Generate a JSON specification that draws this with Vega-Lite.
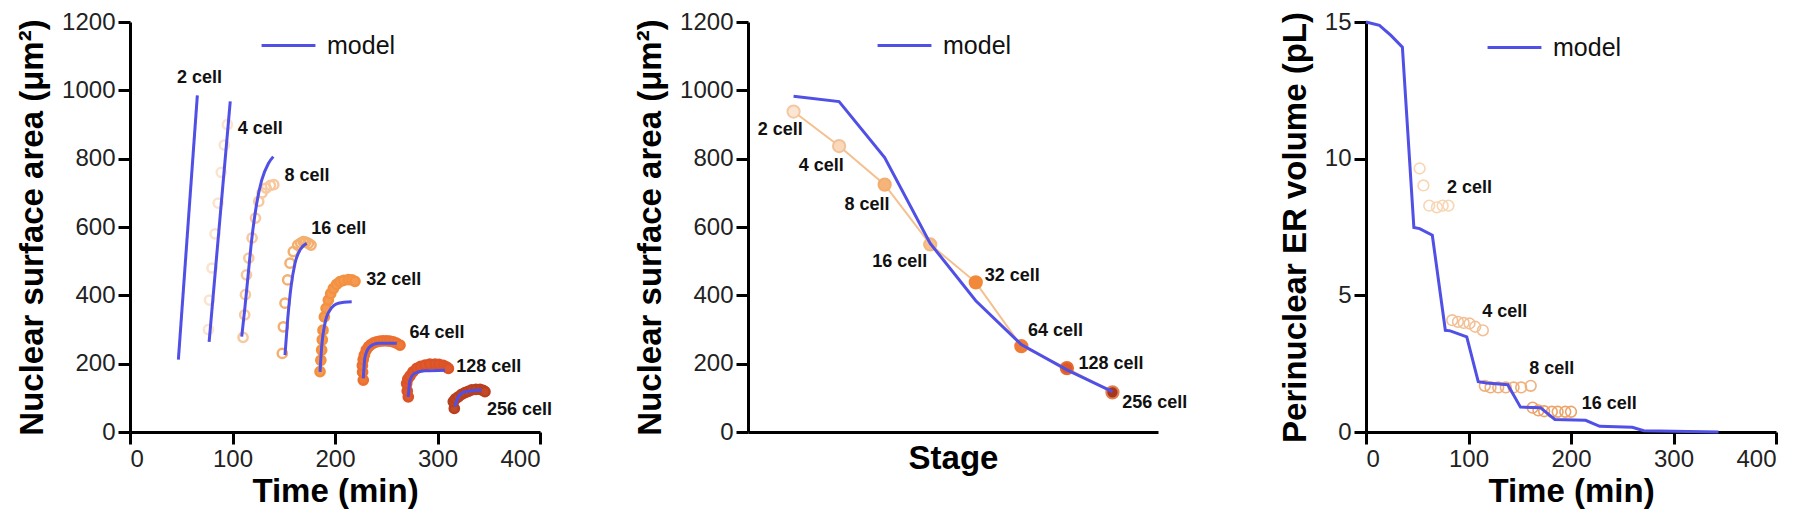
{
  "$schema": "https://vega.github.io/schema/vega-lite/v6.json",
  "padding": {"left": 16, "top": 10, "right": 5, "bottom": 5},
  "background": "white",
  "spacing": 208,
  "bounds": "flush",
  "resolve": {
    "scale": {"color": "independent", "stroke": "independent", "fill": "independent"},
    "legend": {"color": "independent"}
  },
  "config": {
    "view": {"stroke": null},
    "font": "Liberation Sans",
    "axis": {
      "grid": false, "domainColor": "#000", "domainWidth": 3, "tickColor": "#000", "tickWidth": 3, "tickSize": 12,
      "labelFontSize": 24, "labelColor": "#222", "labelPadding": 3, "labelFont": "Liberation Sans", "format": "d",
      "titleFontSize": 33, "titleFontWeight": "bold", "titleColor": "#000", "titleFont": "Liberation Sans"
    },
    "axisX": {"titlePadding": 4},
    "axisY": {"titlePadding": 12},
    "legend": {
      "orient": "none", "labelFontSize": 25, "labelFont": "Liberation Sans", "labelColor": "#111",
      "symbolType": "stroke", "symbolStrokeWidth": 3, "symbolSize": 2900, "labelOffset": 10, "padding": 0
    }
  },
  "datasets": {
    "p1model": [
      {"stage": "2 cell", "t": 47.2, "v": 212}, {"stage": "2 cell", "t": 65.7, "v": 985},
      {"stage": "4 cell", "t": 77.2, "v": 264}, {"stage": "4 cell", "t": 97.8, "v": 968},
      {"stage": "8 cell", "t": 109, "v": 279}, {"stage": "8 cell", "t": 112.2, "v": 367}, {"stage": "8 cell", "t": 115.4, "v": 464}, {"stage": "8 cell", "t": 118.7, "v": 562}, {"stage": "8 cell", "t": 123.6, "v": 669}, {"stage": "8 cell", "t": 128.5, "v": 737}, {"stage": "8 cell", "t": 135, "v": 786}, {"stage": "8 cell", "t": 139.8, "v": 806},
      {"stage": "16 cell", "t": 151.2, "v": 225}, {"stage": "16 cell", "t": 153.8, "v": 328}, {"stage": "16 cell", "t": 157.1, "v": 425}, {"stage": "16 cell", "t": 161, "v": 494}, {"stage": "16 cell", "t": 165.9, "v": 533}, {"stage": "16 cell", "t": 172.4, "v": 552},
      {"stage": "32 cell", "t": 185.4, "v": 176}, {"stage": "32 cell", "t": 187, "v": 250}, {"stage": "32 cell", "t": 190.2, "v": 318}, {"stage": "32 cell", "t": 195.1, "v": 357}, {"stage": "32 cell", "t": 203.3, "v": 377}, {"stage": "32 cell", "t": 216.3, "v": 381},
      {"stage": "64 cell", "t": 227.6, "v": 157}, {"stage": "64 cell", "t": 229.3, "v": 220}, {"stage": "64 cell", "t": 234.1, "v": 250}, {"stage": "64 cell", "t": 242.3, "v": 260}, {"stage": "64 cell", "t": 260.2, "v": 260},
      {"stage": "128 cell", "t": 271.5, "v": 103}, {"stage": "128 cell", "t": 273.2, "v": 152}, {"stage": "128 cell", "t": 278, "v": 172}, {"stage": "128 cell", "t": 287.8, "v": 179}, {"stage": "128 cell", "t": 307.3, "v": 181},
      {"stage": "256 cell", "t": 317, "v": 74}, {"stage": "256 cell", "t": 320.3, "v": 103}, {"stage": "256 cell", "t": 326.8, "v": 118}, {"stage": "256 cell", "t": 343.1, "v": 123}
    ],
    "p1data": [
      {"stage": "4 cell", "t": 76.5, "v": 300}, {"stage": "4 cell", "t": 77.5, "v": 386}, {"stage": "4 cell", "t": 80, "v": 480}, {"stage": "4 cell", "t": 83, "v": 580}, {"stage": "4 cell", "t": 86, "v": 670}, {"stage": "4 cell", "t": 89, "v": 760}, {"stage": "4 cell", "t": 92, "v": 840}, {"stage": "4 cell", "t": 95, "v": 900},
      {"stage": "8 cell", "t": 110.3, "v": 277}, {"stage": "8 cell", "t": 111.9, "v": 343}, {"stage": "8 cell", "t": 112.6, "v": 402}, {"stage": "8 cell", "t": 113.6, "v": 460}, {"stage": "8 cell", "t": 115.9, "v": 509}, {"stage": "8 cell", "t": 119.1, "v": 568}, {"stage": "8 cell", "t": 122.4, "v": 626}, {"stage": "8 cell", "t": 125.6, "v": 675}, {"stage": "8 cell", "t": 128.9, "v": 700}, {"stage": "8 cell", "t": 132.8, "v": 714}, {"stage": "8 cell", "t": 137, "v": 722}, {"stage": "8 cell", "t": 140.3, "v": 724},
      {"stage": "16 cell", "t": 148.6, "v": 230}, {"stage": "16 cell", "t": 149.6, "v": 308}, {"stage": "16 cell", "t": 151.2, "v": 377}, {"stage": "16 cell", "t": 153.8, "v": 445}, {"stage": "16 cell", "t": 156.1, "v": 494}, {"stage": "16 cell", "t": 159.3, "v": 528}, {"stage": "16 cell", "t": 163.6, "v": 547}, {"stage": "16 cell", "t": 166.5, "v": 553}, {"stage": "16 cell", "t": 169.1, "v": 557}, {"stage": "16 cell", "t": 171.5, "v": 556}, {"stage": "16 cell", "t": 174, "v": 552}, {"stage": "16 cell", "t": 176.6, "v": 547},
      {"stage": "32 cell", "t": 185.4, "v": 177}, {"stage": "32 cell", "t": 186.2, "v": 210}, {"stage": "32 cell", "t": 187, "v": 240}, {"stage": "32 cell", "t": 187.6, "v": 270}, {"stage": "32 cell", "t": 188.3, "v": 298}, {"stage": "32 cell", "t": 189.6, "v": 337}, {"stage": "32 cell", "t": 191.3, "v": 362}, {"stage": "32 cell", "t": 193.5, "v": 386}, {"stage": "32 cell", "t": 195.8, "v": 405}, {"stage": "32 cell", "t": 198.4, "v": 420}, {"stage": "32 cell", "t": 201.5, "v": 432}, {"stage": "32 cell", "t": 204.9, "v": 440}, {"stage": "32 cell", "t": 208.5, "v": 444}, {"stage": "32 cell", "t": 213, "v": 446}, {"stage": "32 cell", "t": 216.5, "v": 445}, {"stage": "32 cell", "t": 219.5, "v": 441},
      {"stage": "64 cell", "t": 227.6, "v": 152}, {"stage": "64 cell", "t": 226.9, "v": 175}, {"stage": "64 cell", "t": 226.7, "v": 195}, {"stage": "64 cell", "t": 227.5, "v": 212}, {"stage": "64 cell", "t": 228.6, "v": 225}, {"stage": "64 cell", "t": 230.5, "v": 240}, {"stage": "64 cell", "t": 232.8, "v": 250}, {"stage": "64 cell", "t": 235, "v": 256}, {"stage": "64 cell", "t": 237.7, "v": 261}, {"stage": "64 cell", "t": 240.5, "v": 264}, {"stage": "64 cell", "t": 243.9, "v": 266}, {"stage": "64 cell", "t": 247, "v": 267}, {"stage": "64 cell", "t": 250.4, "v": 267}, {"stage": "64 cell", "t": 253.5, "v": 266}, {"stage": "64 cell", "t": 256.9, "v": 264}, {"stage": "64 cell", "t": 260, "v": 260}, {"stage": "64 cell", "t": 263.4, "v": 254},
      {"stage": "128 cell", "t": 271.5, "v": 103}, {"stage": "128 cell", "t": 270.5, "v": 120}, {"stage": "128 cell", "t": 269.9, "v": 142}, {"stage": "128 cell", "t": 271, "v": 155}, {"stage": "128 cell", "t": 273.2, "v": 164}, {"stage": "128 cell", "t": 276, "v": 176}, {"stage": "128 cell", "t": 279.7, "v": 186}, {"stage": "128 cell", "t": 283.5, "v": 192}, {"stage": "128 cell", "t": 287.8, "v": 196}, {"stage": "128 cell", "t": 292.5, "v": 199}, {"stage": "128 cell", "t": 297.6, "v": 199}, {"stage": "128 cell", "t": 301.5, "v": 198}, {"stage": "128 cell", "t": 305.7, "v": 195}, {"stage": "128 cell", "t": 308.5, "v": 191}, {"stage": "128 cell", "t": 310.6, "v": 186},
      {"stage": "256 cell", "t": 316.4, "v": 69}, {"stage": "256 cell", "t": 315.4, "v": 89}, {"stage": "256 cell", "t": 317.5, "v": 97}, {"stage": "256 cell", "t": 320.3, "v": 103}, {"stage": "256 cell", "t": 323.5, "v": 110}, {"stage": "256 cell", "t": 326.8, "v": 115}, {"stage": "256 cell", "t": 330, "v": 119}, {"stage": "256 cell", "t": 333.4, "v": 123}, {"stage": "256 cell", "t": 337.5, "v": 125}, {"stage": "256 cell", "t": 341.5, "v": 125}, {"stage": "256 cell", "t": 344.5, "v": 122}, {"stage": "256 cell", "t": 346.3, "v": 118}
    ],
    "p1labels": [
      {"label": "2 cell", "t": 67.8, "v": 1036}, {"label": "4 cell", "t": 127, "v": 888}, {"label": "8 cell", "t": 172.7, "v": 750},
      {"label": "16 cell", "t": 203.7, "v": 594}, {"label": "32 cell", "t": 257.3, "v": 446}, {"label": "64 cell", "t": 299.5, "v": 289},
      {"label": "128 cell", "t": 350, "v": 190}, {"label": "256 cell", "t": 380, "v": 64}
    ],
    "p2data": [
      {"stage": "2 cell", "i": 1, "v": 938}, {"stage": "4 cell", "i": 2, "v": 837}, {"stage": "8 cell", "i": 3, "v": 724}, {"stage": "16 cell", "i": 4, "v": 549},
      {"stage": "32 cell", "i": 5, "v": 438}, {"stage": "64 cell", "i": 6, "v": 251}, {"stage": "128 cell", "i": 7, "v": 187}, {"stage": "256 cell", "i": 8, "v": 116}
    ],
    "p2model": [
      {"i": 1, "v": 983}, {"i": 2, "v": 967}, {"i": 3, "v": 803}, {"i": 4, "v": 552},
      {"i": 5, "v": 384}, {"i": 6, "v": 256}, {"i": 7, "v": 182}, {"i": 8, "v": 118}
    ],
    "p2labels": [
      {"label": "2 cell", "i": 0.706, "v": 884}, {"label": "4 cell", "i": 1.61, "v": 778}, {"label": "8 cell", "i": 2.61, "v": 665},
      {"label": "16 cell", "i": 3.33, "v": 498}, {"label": "32 cell", "i": 5.8, "v": 458}, {"label": "64 cell", "i": 6.75, "v": 296},
      {"label": "128 cell", "i": 7.97, "v": 199}, {"label": "256 cell", "i": 8.93, "v": 85}
    ],
    "p3model": [
      {"t": 0, "v": 15}, {"t": 13.1, "v": 14.88}, {"t": 24.3, "v": 14.51}, {"t": 35.5, "v": 14.08}, {"t": 46.7, "v": 7.48},
      {"t": 52.3, "v": 7.44}, {"t": 64.7, "v": 7.2}, {"t": 77.4, "v": 3.72}, {"t": 82.2, "v": 3.7}, {"t": 98.3, "v": 3.48},
      {"t": 109.5, "v": 1.84}, {"t": 117.8, "v": 1.79}, {"t": 138.3, "v": 1.73}, {"t": 150.7, "v": 0.91}, {"t": 170.1, "v": 0.89},
      {"t": 184.3, "v": 0.46}, {"t": 214.2, "v": 0.43}, {"t": 228, "v": 0.21}, {"t": 259.8, "v": 0.17}, {"t": 271, "v": 0.05}, {"t": 343.9, "v": 0}
    ],
    "p3data": [
      {"stage": "2 cell", "t": 52.3, "v": 9.64}, {"stage": "2 cell", "t": 56, "v": 9.02}, {"stage": "2 cell", "t": 61.7, "v": 8.28}, {"stage": "2 cell", "t": 69.2, "v": 8.22}, {"stage": "2 cell", "t": 74.8, "v": 8.28}, {"stage": "2 cell", "t": 80.4, "v": 8.28},
      {"stage": "4 cell", "t": 84.1, "v": 4.09}, {"stage": "4 cell", "t": 89.7, "v": 4.03}, {"stage": "4 cell", "t": 95.3, "v": 3.99}, {"stage": "4 cell", "t": 101, "v": 3.97}, {"stage": "4 cell", "t": 106.5, "v": 3.85}, {"stage": "4 cell", "t": 114, "v": 3.72},
      {"stage": "8 cell", "t": 115.9, "v": 1.69}, {"stage": "8 cell", "t": 121.5, "v": 1.63}, {"stage": "8 cell", "t": 129, "v": 1.63}, {"stage": "8 cell", "t": 136.4, "v": 1.63}, {"stage": "8 cell", "t": 144, "v": 1.63}, {"stage": "8 cell", "t": 151.4, "v": 1.63}, {"stage": "8 cell", "t": 160.7, "v": 1.69},
      {"stage": "16 cell", "t": 162.6, "v": 0.89}, {"stage": "16 cell", "t": 168.2, "v": 0.79}, {"stage": "16 cell", "t": 173.8, "v": 0.76}, {"stage": "16 cell", "t": 181.3, "v": 0.74}, {"stage": "16 cell", "t": 187, "v": 0.74}, {"stage": "16 cell", "t": 194.4, "v": 0.74}, {"stage": "16 cell", "t": 200, "v": 0.74}
    ],
    "p3labels": [
      {"label": "2 cell", "t": 101, "v": 8.92}, {"label": "4 cell", "t": 135.3, "v": 4.4}, {"label": "8 cell", "t": 181.3, "v": 2.3}, {"label": "16 cell", "t": 237.4, "v": 1.04}
    ]
  },
  "hconcat": [
    {
      "width": 410, "height": 410,
      "layer": [
        {
          "data": {"name": "p1data"},
          "mark": {"type": "point", "shape": "circle", "size": 85, "strokeWidth": 2.5, "opacity": 1, "fillOpacity": 1},
          "encoding": {
            "x": {"field": "t", "type": "quantitative", "scale": {"domain": [0, 400], "nice": false}, "axis": {"values": [0, 100, 200, 300, 400], "title": "Time (min)"}},
            "y": {"field": "v", "type": "quantitative", "scale": {"domain": [0, 1200], "nice": false}, "axis": {"values": [0, 200, 400, 600, 800, 1000, 1200], "title": "Nuclear surface area (μm²)"}},
            "stroke": {"field": "stage", "type": "nominal", "legend": null,
              "scale": {"domain": ["4 cell", "8 cell", "16 cell", "32 cell", "64 cell", "128 cell", "256 cell"], "range": ["#fbe3cd", "#f7c9a0", "#f4b070", "#f39140", "#ec7030", "#dc5328", "#b9401f"]}},
            "fill": {"field": "stage", "type": "nominal", "legend": null,
              "scale": {"domain": ["4 cell", "8 cell", "16 cell", "32 cell", "64 cell", "128 cell", "256 cell"], "range": ["rgba(255,255,255,0)", "rgba(255,255,255,0)", "rgba(255,255,255,0)", "#f59a52", "#ee7a38", "#de5a2c", "#c24a26"]}}
          }
        },
        {
          "data": {"name": "p1model"},
          "mark": {"type": "line", "strokeWidth": 3, "interpolate": "monotone"},
          "encoding": {
            "x": {"field": "t", "type": "quantitative"},
            "y": {"field": "v", "type": "quantitative"},
            "detail": {"field": "stage", "type": "nominal"},
            "color": {"datum": "model", "scale": {"range": ["#5050e6"]}, "legend": {"title": null, "legendX": 130, "legendY": -5}}
          }
        },
        {
          "data": {"name": "p1labels"},
          "mark": {"type": "text", "fontSize": 18, "fontWeight": "bold", "color": "#111", "align": "center", "baseline": "middle"},
          "encoding": {
            "x": {"field": "t", "type": "quantitative"},
            "y": {"field": "v", "type": "quantitative"},
            "text": {"field": "label"}
          }
        }
      ]
    },
    {
      "width": 410, "height": 410,
      "layer": [
        {
          "data": {"name": "p2data"},
          "mark": {"type": "line", "strokeWidth": 2, "color": "#f5c08f"},
          "encoding": {
            "x": {"field": "i", "type": "quantitative", "scale": {"domain": [0, 9], "nice": false}, "axis": {"labels": false, "ticks": false, "title": "Stage", "titlePadding": 10}},
            "y": {"field": "v", "type": "quantitative", "scale": {"domain": [0, 1200], "nice": false}, "axis": {"values": [0, 200, 400, 600, 800, 1000, 1200], "title": "Nuclear surface area (μm²)"}}
          }
        },
        {
          "data": {"name": "p2data"},
          "mark": {"type": "point", "shape": "circle", "size": 150, "strokeWidth": 2, "opacity": 1, "fillOpacity": 1},
          "encoding": {
            "x": {"field": "i", "type": "quantitative"},
            "y": {"field": "v", "type": "quantitative"},
            "fill": {"field": "stage", "type": "nominal", "legend": null,
              "scale": {"domain": ["2 cell", "4 cell", "8 cell", "16 cell", "32 cell", "64 cell", "128 cell", "256 cell"], "range": ["#fbe6d4", "#fad9bb", "#f5b47a", "#f6c18d", "#f28839", "#ee7c36", "#dd5a28", "#a8341a"]}},
            "stroke": {"field": "stage", "type": "nominal", "legend": null,
              "scale": {"domain": ["2 cell", "4 cell", "8 cell", "16 cell", "32 cell", "64 cell", "128 cell", "256 cell"], "range": ["#f3c8a2", "#f1c299", "#f3ad6f", "#f3b780", "#f28839", "#ee7c36", "#e46a30", "#e08050"]}}
          }
        },
        {
          "data": {"name": "p2model"},
          "mark": {"type": "line", "strokeWidth": 3},
          "encoding": {
            "x": {"field": "i", "type": "quantitative"},
            "y": {"field": "v", "type": "quantitative"},
            "color": {"datum": "model", "scale": {"range": ["#5050e6"]}, "legend": {"title": null, "legendX": 128, "legendY": -5}}
          }
        },
        {
          "data": {"name": "p2labels"},
          "mark": {"type": "text", "fontSize": 18, "fontWeight": "bold", "color": "#111", "align": "center", "baseline": "middle"},
          "encoding": {
            "x": {"field": "i", "type": "quantitative"},
            "y": {"field": "v", "type": "quantitative"},
            "text": {"field": "label"}
          }
        }
      ]
    },
    {
      "width": 410, "height": 410,
      "layer": [
        {
          "data": {"name": "p3data"},
          "mark": {"type": "point", "shape": "circle", "size": 115, "strokeWidth": 1.6, "filled": false, "opacity": 1},
          "encoding": {
            "x": {"field": "t", "type": "quantitative", "scale": {"domain": [0, 400], "nice": false}, "axis": {"values": [0, 100, 200, 300, 400], "title": "Time (min)"}},
            "y": {"field": "v", "type": "quantitative", "scale": {"domain": [0, 15], "nice": false}, "axis": {"values": [0, 5, 10, 15], "title": "Perinuclear ER volume (pL)"}},
            "stroke": {"field": "stage", "type": "nominal", "legend": null,
              "scale": {"domain": ["2 cell", "4 cell", "8 cell", "16 cell"], "range": ["#f8d6b4", "#f3c096", "#efb07c", "#eda46a"]}}
          }
        },
        {
          "data": {"name": "p3model"},
          "mark": {"type": "line", "strokeWidth": 3},
          "encoding": {
            "x": {"field": "t", "type": "quantitative"},
            "y": {"field": "v", "type": "quantitative"},
            "color": {"datum": "model", "scale": {"range": ["#5050e6"]}, "legend": {"title": null, "legendX": 120, "legendY": -3}}
          }
        },
        {
          "data": {"name": "p3labels"},
          "mark": {"type": "text", "fontSize": 18, "fontWeight": "bold", "color": "#111", "align": "center", "baseline": "middle"},
          "encoding": {
            "x": {"field": "t", "type": "quantitative"},
            "y": {"field": "v", "type": "quantitative"},
            "text": {"field": "label"}
          }
        }
      ]
    }
  ]
}
